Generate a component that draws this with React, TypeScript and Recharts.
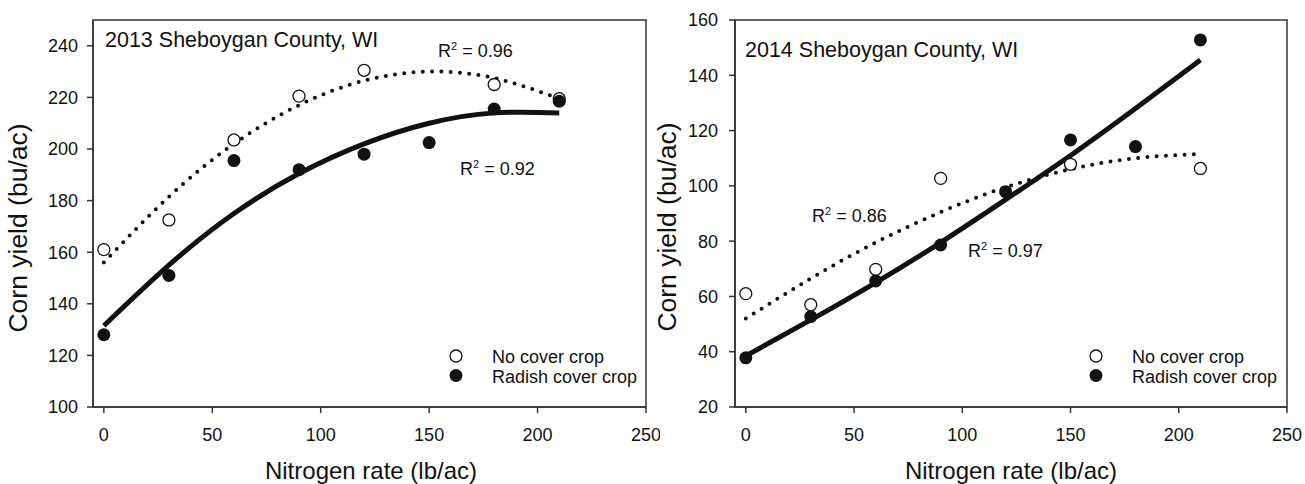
import { ComposedChart, Scatter, Line, XAxis, YAxis } from "recharts";

const RATES = [0, 30, 60, 90, 120, 150, 180, 210];
const X_TICKS = [0, 50, 100, 150, 200, 250];

// 2013 observations (bu/ac)
const NO_COVER_RATES_2013 = [0, 30, 60, 90, 120, 180, 210];
const NO_COVER_2013 = [161, 172.5, 203.5, 220.5, 230.5, 225, 219.5];
const RADISH_2013 = [128, 151, 195.5, 192, 198, 202.5, 215.5, 218.5];
// fitted curves at each rate
const NO_COVER_FIT_2013 = [156, 181.5, 202, 217, 226.5, 230, 227.5, 219.5];
const RADISH_FIT_2013 = [131.5, 155, 175, 190.5, 202, 210, 214, 214];
const Y_TICKS_2013 = [100, 120, 140, 160, 180, 200, 220, 240];

// 2014 observations
const NO_COVER_RATES_2014 = [0, 30, 60, 90, 150, 210];
const NO_COVER_2014 = [61, 57, 69.8, 102.7, 107.8, 106.3];
const RADISH_2014 = [37.8, 52.7, 65.6, 78.6, 97.9, 116.6, 114.2, 152.8];
const NO_COVER_FIT_2014 = [52, 66.5, 79.5, 90.5, 99.5, 106, 110, 111.5];
const RADISH_FIT_2014 = [38.5, 51.5, 65, 79.5, 95, 111, 128, 145.5];
const Y_TICKS_2014 = [20, 40, 60, 80, 100, 120, 140, 160];

const FONT = "'Liberation Sans', Arial, sans-serif";
const INK = "#111";
const AXIS = "#333";

const W = 1305;
const H = 484;
const TOP = 20;
const X_AXIS_H = 77;

const pts = (xs: number[], ys: number[]) => xs.map((x, i) => ({ x, y: ys[i] }));

const openDot = (p: any) => (
  <circle cx={p.cx} cy={p.cy} r={6} fill="#fff" stroke={INK} strokeWidth={1.3} />
);
const fullDot = (p: any) => <circle cx={p.cx} cy={p.cy} r={6.5} fill={INK} />;

type PanelProps = {
  left: number;
  width: number;
  axisWidth: number;
  rightMargin: number;
  yDomain: [number, number];
  yTicks: number[];
  yTickMargin: number;
  noCover: { x: number; y: number }[];
  radish: { x: number; y: number }[];
  noCoverFit: { x: number; y: number }[];
  radishFit: { x: number; y: number }[];
};

const PANEL_1 = { left: 0, width: 660, axisWidth: 93, rightMargin: 14 };
const PANEL_2 = { left: 650, width: 655, axisWidth: 85, rightMargin: 18 };

function Panel(p: PanelProps) {
  const tick = { fill: INK, fontSize: 18, fontFamily: FONT };
  return (
    <div style={{ position: "absolute", left: p.left, top: 0, width: p.width, height: H }}>
      <ComposedChart
        width={p.width}
        height={H}
        margin={{ top: TOP, right: p.rightMargin, bottom: 0, left: 0 }}
      >
        <XAxis
          dataKey="x"
          type="number"
          domain={[-5, 250]}
          ticks={X_TICKS}
          allowDataOverflow
          height={X_AXIS_H}
          tick={tick}
          tickSize={6}
          tickMargin={15}
          stroke={AXIS}
          strokeWidth={1.5}
        />
        <YAxis
          dataKey="y"
          type="number"
          domain={p.yDomain}
          ticks={p.yTicks}
          allowDataOverflow
          width={p.axisWidth}
          tick={tick}
          tickSize={6}
          tickMargin={p.yTickMargin}
          stroke={AXIS}
          strokeWidth={1.5}
        />
        <Scatter data={p.noCover} shape={openDot} isAnimationActive={false} />
        <Scatter data={p.radish} shape={fullDot} isAnimationActive={false} />
        <Line
          data={p.noCoverFit}
          dataKey="y"
          type="natural"
          dot={false}
          stroke={INK}
          strokeWidth={4}
          strokeDasharray="0 9.3"
          strokeLinecap="round"
          isAnimationActive={false}
        />
        <Line
          data={p.radishFit}
          dataKey="y"
          type="natural"
          dot={false}
          stroke={INK}
          strokeWidth={5}
          isAnimationActive={false}
        />
      </ComposedChart>
    </div>
  );
}

// plot frame around a panel
function Frame({ left, width, axisWidth, rightMargin }: typeof PANEL_1) {
  const x0 = left + axisWidth;
  const x1 = left + width - rightMargin;
  const y1 = H - X_AXIS_H;
  return (
    <rect
      x={x0}
      y={TOP}
      width={x1 - x0}
      height={y1 - TOP}
      fill="none"
      stroke={AXIS}
      strokeWidth={1.5}
    />
  );
}

function RSquared({ x, y, value }: { x: number; y: number; value: string }) {
  return (
    <text x={x} y={y} fontSize={18} fill={INK} fontFamily={FONT}>
      R
      <tspan fontSize={11} dy={-7}>
        2
      </tspan>
      <tspan dy={7}>{` = ${value}`}</tspan>
    </text>
  );
}

function LegendBox({ x, y }: { x: number; y: number }) {
  return (
    <g fontFamily={FONT} fontSize={18} fill={INK}>
      <circle cx={x} cy={y} r={6} fill="#fff" stroke={INK} strokeWidth={1.3} />
      <text x={x + 36} y={y + 7}>No cover crop</text>
      <circle cx={x} cy={y + 19.5} r={6.5} fill={INK} />
      <text x={x + 36} y={y + 27}>Radish cover crop</text>
    </g>
  );
}

export default function App() {
  return (
    <div
      style={{
        position: "absolute",
        left: 0,
        top: 0,
        width: W,
        height: H,
        background: "#fff",
        overflow: "hidden",
      }}
    >
      <Panel
        {...PANEL_1}
        yDomain={[100, 250]}
        yTicks={Y_TICKS_2013}
        yTickMargin={9}
        noCover={pts(NO_COVER_RATES_2013, NO_COVER_2013)}
        radish={pts(RATES, RADISH_2013)}
        noCoverFit={pts(RATES, NO_COVER_FIT_2013)}
        radishFit={pts(RATES, RADISH_FIT_2013)}
      />
      <Panel
        {...PANEL_2}
        yDomain={[20, 160]}
        yTicks={Y_TICKS_2014}
        yTickMargin={11}
        noCover={pts(NO_COVER_RATES_2014, NO_COVER_2014)}
        radish={pts(RATES, RADISH_2014)}
        noCoverFit={pts(RATES, NO_COVER_FIT_2014)}
        radishFit={pts(RATES, RADISH_FIT_2014)}
      />
      <svg
        width={W}
        height={H}
        style={{ position: "absolute", left: 0, top: 0, pointerEvents: "none" }}
      >
        <Frame {...PANEL_1} />
        <Frame {...PANEL_2} />
        <g fontFamily={FONT} fill={INK}>
          <text x={105} y={46.5} fontSize={21.5}>2013 Sheboygan County, WI</text>
          <text x={745} y={56.5} fontSize={21.5}>2014 Sheboygan County, WI</text>
          <text x={371} y={479} fontSize={24} textAnchor="middle">Nitrogen rate (lb/ac)</text>
          <text x={1011} y={479} fontSize={24} textAnchor="middle">Nitrogen rate (lb/ac)</text>
          <text x={27} y={228} fontSize={26.5} textAnchor="middle" transform="rotate(-90 27 228)">
            Corn yield (bu/ac)
          </text>
          <text x={676} y={227} fontSize={26.5} textAnchor="middle" transform="rotate(-90 676 227)">
            Corn yield (bu/ac)
          </text>
        </g>
        <RSquared x={438} y={56.5} value="0.96" />
        <RSquared x={460} y={175} value="0.92" />
        <RSquared x={812} y={221.5} value="0.86" />
        <RSquared x={968} y={257} value="0.97" />
        <LegendBox x={456} y={356} />
        <LegendBox x={1096} y={356} />
      </svg>
    </div>
  );
}
